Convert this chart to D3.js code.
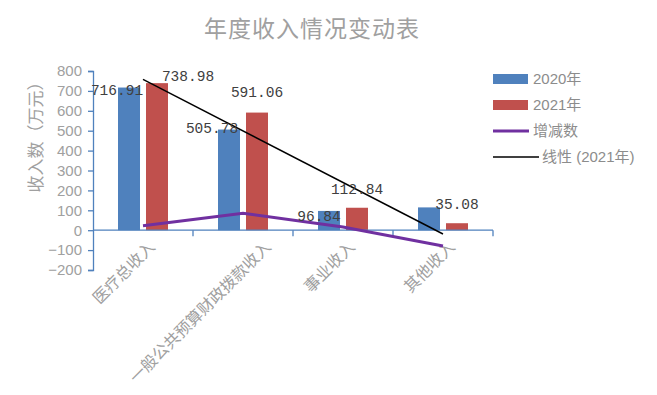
<!DOCTYPE html>
<html>
<head>
<meta charset="utf-8">
<script src="https://cdn.jsdelivr.net/npm/d3@7"></script>
<style>
  body { margin: 0; background: #fff; }
  text { font-family: "Liberation Sans", "Noto Sans CJK SC", sans-serif; }
</style>
</head>
<body>
<div id="chart"></div>
<script>
var w = 657;
var h = 395;

var categories = ["医疗总收入", "一般公共预算财政拨款收入", "事业收入", "其他收入"];
var seriesNames = ["2020年", "2021年"];
var values2020 = [716.91, 505.78, 96.84, 114.6];
var values2021 = [738.98, 591.06, 112.84, 35.08];
var yTicks = [-200, -100, 0, 100, 200, 300, 400, 500, 600, 700, 800];

// which bars carry a value label, and where it sits relative to the bar top
var showLabel2020 = [true, true, true, false];
var labelShift2020 = [[-12, 7], [-17, 3], [-10, 10], [0, 0]];
var labelShift2021 = [[31, -2], [0, -16], [0, -14], [0, -14]];
var catLabelShift = [0, 16, 0, 0];

var colors = ["#4F81BD", "#C0504D"];
var diffColor = "#7030A0";
var axisColor = "#4F81BD";
var textGray = "#A0A0A0";

var diffs = values2021.map(function (d, i) {
  return d - values2020[i];
});

// linear trend of 2021 values
var n = values2021.length;
var xm = (n + 1) / 2;
var ym = d3.mean(values2021);
var sxy = 0, sxx = 0;
values2021.forEach(function (d, i) {
  sxy += (i + 1 - xm) * (d - ym);
  sxx += (i + 1 - xm) * (i + 1 - xm);
});
var slope = sxy / sxx;
var trend = [1, n].map(function (k) {
  return { i: k - 1, v: ym + slope * (k - xm) };
});

var svg = d3.select("#chart").append("svg").attr("width", w).attr("height", h);

var x0 = d3.scaleBand().domain(d3.range(categories.length)).range([93, 493]);
var x1 = d3
  .scaleBand()
  .domain(d3.range(seriesNames.length))
  .range([25, 75])
  .paddingInner(0.214);
var y = d3.scaleLinear().domain([-200, 800]).range([270, 71]);

function cx(i) {
  return x0(i) + x0.bandwidth() / 2;
}

// title
svg
  .append("text")
  .attr("x", 312)
  .attr("y", 37)
  .attr("text-anchor", "middle")
  .attr("fill", textGray)
  .style("font-size", "23px")
  .style("letter-spacing", "1px")
  .text("年度收入情况变动表");

// y axis
var yAxis = svg
  .append("g")
  .attr("transform", "translate(93,0)")
  .call(d3.axisLeft(y).tickValues(yTicks).tickSize(5).tickPadding(6));
yAxis.select(".domain").attr("stroke", axisColor).attr("stroke-width", 1.3);
yAxis.selectAll(".tick line").attr("stroke", axisColor).attr("stroke-width", 1.3);
yAxis
  .selectAll(".tick text")
  .attr("fill", textGray)
  .style("font-size", "15px")
  .style("font-family", "'Liberation Sans', sans-serif");

svg
  .append("text")
  .attr("transform", "translate(42,133) rotate(-90)")
  .attr("text-anchor", "middle")
  .attr("fill", textGray)
  .style("font-size", "17px")
  .text("收入数（万元）");

// bars
var groups = svg
  .selectAll("g.cat")
  .data(categories)
  .enter()
  .append("g")
  .attr("class", "cat")
  .attr("transform", function (d, i) {
    return "translate(" + x0(i) + ",0)";
  });

[values2020, values2021].forEach(function (vals, s) {
  groups
    .append("rect")
    .attr("x", x1(s))
    .attr("width", x1.bandwidth())
    .attr("y", function (d, i) {
      return y(Math.max(0, vals[i]));
    })
    .attr("height", function (d, i) {
      return Math.abs(y(vals[i]) - y(0));
    })
    .attr("fill", colors[s]);
});

// x axis
var xAxisG = svg.append("g");
xAxisG
  .append("line")
  .attr("x1", 93)
  .attr("x2", 493)
  .attr("y1", y(0))
  .attr("y2", y(0))
  .attr("stroke", axisColor)
  .attr("stroke-width", 1.3);
xAxisG
  .selectAll("line.tk")
  .data(d3.range(1, categories.length + 1))
  .enter()
  .append("line")
  .attr("class", "tk")
  .attr("x1", function (d) {
    return x0.range()[0] + d * x0.step();
  })
  .attr("x2", function (d) {
    return x0.range()[0] + d * x0.step();
  })
  .attr("y1", y(0))
  .attr("y2", y(0) + 6)
  .attr("stroke", axisColor)
  .attr("stroke-width", 1.3);

svg
  .selectAll("text.cat")
  .data(categories)
  .enter()
  .append("text")
  .attr("class", "cat")
  .attr("text-anchor", "end")
  .attr("transform", function (d, i) {
    return "translate(" + (cx(i) + 13 + catLabelShift[i]) + "," + (y(0) + 18) + ") rotate(-45)";
  })
  .attr("fill", textGray)
  .style("font-size", "16px")
  .text(function (d) {
    return d;
  });

// increase / decrease line
var line = d3
  .line()
  .x(function (d, i) {
    return cx(i);
  })
  .y(function (d) {
    return y(d);
  });
svg
  .append("path")
  .datum(diffs)
  .attr("d", line)
  .attr("fill", "none")
  .attr("stroke", diffColor)
  .attr("stroke-width", 3);

// trend line
svg
  .append("path")
  .datum(trend)
  .attr(
    "d",
    d3
      .line()
      .x(function (d) {
        return cx(d.i);
      })
      .y(function (d) {
        return y(d.v);
      })
  )
  .attr("fill", "none")
  .attr("stroke", "#000")
  .attr("stroke-width", 1.5);

// value labels
function addLabels(vals, s, shifts, show) {
  vals.forEach(function (d, k) {
    if (show && !show[k]) return;
    svg
      .append("text")
      .attr("class", "lab" + s)
      .attr("text-anchor", "middle")
      .attr("x", x0(k) + x1(s) + x1.bandwidth() / 2 + shifts[k][0])
      .attr("y", y(d) + shifts[k][1])
      .attr("fill", "#404040")
      .style("font-family", "'Liberation Mono', 'DejaVu Sans Mono', monospace")
      .style("font-size", "14.5px")
      .text(d.toFixed(2));
  });
}
addLabels(values2020, 0, labelShift2020, showLabel2020);
addLabels(values2021, 1, labelShift2021, null);

// legend
var legend = svg.append("g").attr("transform", "translate(493,0)");
var legendItems = [
  { name: seriesNames[0], kind: "rect", color: colors[0], y: 79 },
  { name: seriesNames[1], kind: "rect", color: colors[1], y: 105 },
  { name: "增减数", kind: "line", color: diffColor, y: 131, sw: 3, len: 36 },
  { name: "线性 (2021年)", kind: "line", color: "#000", y: 157, sw: 1.5, len: 46 }
];
legendItems.forEach(function (d) {
  if (d.kind === "rect") {
    legend
      .append("rect")
      .attr("x", 0)
      .attr("y", d.y - 5)
      .attr("width", 35)
      .attr("height", 10)
      .attr("fill", d.color);
  } else {
    legend
      .append("line")
      .attr("x1", 0)
      .attr("x2", d.len)
      .attr("y1", d.y)
      .attr("y2", d.y)
      .attr("stroke", d.color)
      .attr("stroke-width", d.sw);
  }
  legend
    .append("text")
    .attr("x", d.kind === "rect" || d.len < 40 ? 40 : d.len + 3)
    .attr("y", d.y + 5)
    .attr("fill", "#8C8C8C")
    .style("font-size", "15px")
    .text(d.name);
});
</script>
</body>
</html>
